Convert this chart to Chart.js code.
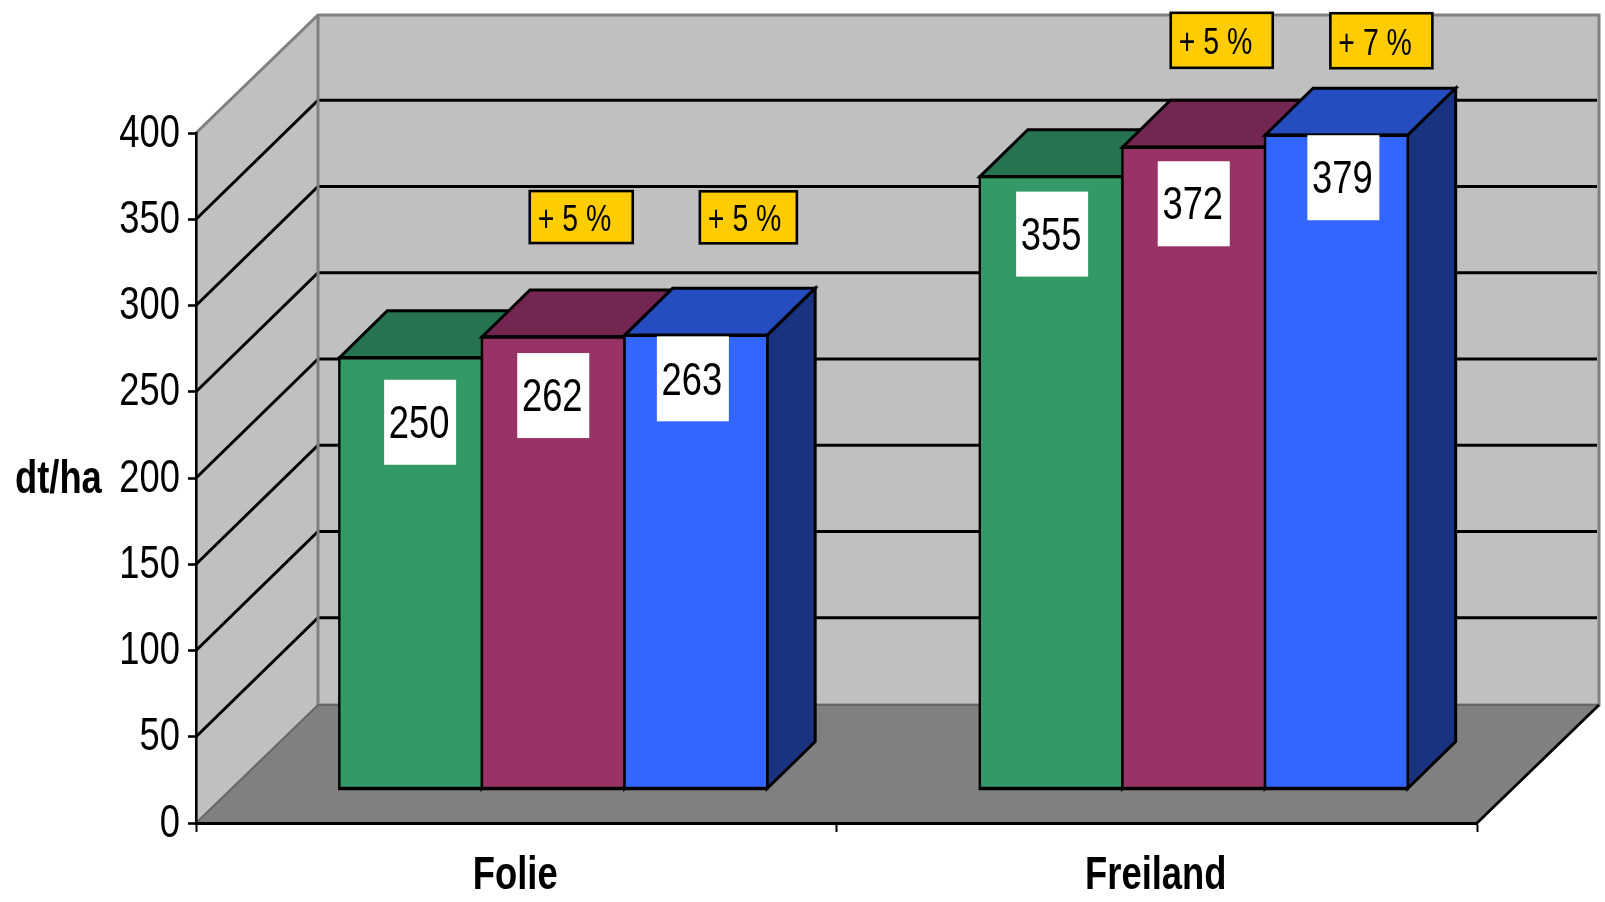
<!DOCTYPE html>
<html lang="de">
<head>
<meta charset="utf-8">
<title>Ertrag dt/ha</title>
<script src="https://cdn.jsdelivr.net/npm/chart.js@4"></script>
<style>
  html, body { margin: 0; padding: 0; background: #fff; }
  #wrap { position: relative; width: 1605px; height: 902px; }
</style>
</head>
<body>
<div id="wrap"><canvas id="chart" width="1605" height="902"></canvas></div>
<script>
// Yield per variant in dt/ha
const categories = ['Folie', 'Freiland'];
const seriesGreen = [250, 355];
const seriesPurple = [262, 372];
const seriesBlue = [263, 379];
const yTicks = [0, 50, 100, 150, 200, 250, 300, 350, 400];
const gainPurple = ['+ 5 %', '+ 5 %'];
const gainBlue = ['+ 5 %', '+ 7 %'];
const axisUnit = 'dt/ha';

// Pseudo-3D look
const FONT = '"Liberation Sans", Arial, sans-serif';
const NARROW = 0.79;
const WALL = { dx: 122, dy: -118 };
const GRID_DY = -119;
const BAR_DEPTH = { dx: 48, dy: -47 };
const BAR_SHIFT = { dx: 37, dy: -34 };

// White value boxes relative to their bar: [dx of centre, dy of top edge]
const valueBoxGreen = [[9.5, 22], [1, 15]];
const valueBoxPurple = [[0, 16], [0, 14]];
const valueBoxBlue = [[-3, 1], [7, 0]];
// Yellow gain notes relative to their bar: [dx of centre, dy of centre, width, height]
const gainBoxPurple = [[28, -120, 103, 52], [28, -107, 102, 55]];
const gainBoxBlue = [[52.5, -118, 97, 52], [45, -94.5, 102, 55]];

const fills = [
  { front: '#339966', top: '#267350', side: '#1A4D33' },
  { front: '#993366', top: '#732650', side: '#4D1A33' },
  { front: '#3366FF', top: '#264DBF', side: '#1A3380' }
];

// Condensed text: the installed sans is squeezed horizontally
function squeezedText(ctx, text, x, y, font, align) {
  ctx.save();
  ctx.translate(x, y);
  ctx.scale(NARROW, 1);
  ctx.font = font;
  ctx.textAlign = align;
  ctx.textBaseline = 'middle';
  ctx.fillStyle = '#000';
  ctx.fillText(text, 0, 0);
  ctx.restore();
}

const sceneryPlugin = {
  id: 'scenery',
  beforeDraw(chart) {
    const { ctx, chartArea: a, scales } = chart;
    const y = scales.y;
    const y0 = y.getPixelForValue(0), yMax = y.getPixelForValue(400);
    const bx0 = a.left + WALL.dx, bx1 = a.right + WALL.dx;
    ctx.save();
    // side wall
    ctx.fillStyle = '#C0C0C0';
    ctx.beginPath();
    ctx.moveTo(a.left, y0); ctx.lineTo(a.left, yMax);
    ctx.lineTo(bx0, yMax + WALL.dy); ctx.lineTo(bx0, y0 + WALL.dy);
    ctx.closePath(); ctx.fill();
    // back wall
    ctx.fillRect(bx0, yMax + WALL.dy, bx1 - bx0, y0 - yMax);
    // floor
    ctx.fillStyle = '#808080';
    ctx.beginPath();
    ctx.moveTo(a.left, y0); ctx.lineTo(bx0, y0 + WALL.dy);
    ctx.lineTo(bx1, y0 + WALL.dy); ctx.lineTo(a.right, y0);
    ctx.closePath(); ctx.fill();

    // grid lines on both walls
    ctx.strokeStyle = '#000'; ctx.lineWidth = 3;
    yTicks.filter(v => v > 0 && v < 400).forEach(v => {
      const p = y.getPixelForValue(v);
      ctx.beginPath();
      ctx.moveTo(a.left, p); ctx.lineTo(bx0, p + GRID_DY); ctx.lineTo(bx1 - 2, p + GRID_DY);
      ctx.stroke();
    });

    // wall edges
    ctx.strokeStyle = '#808080'; ctx.lineWidth = 3;
    ctx.beginPath();
    ctx.moveTo(a.left, yMax); ctx.lineTo(bx0, yMax + WALL.dy); ctx.lineTo(bx1, yMax + WALL.dy);
    ctx.lineTo(bx1, y0 + WALL.dy); ctx.lineTo(bx0, y0 + WALL.dy); ctx.lineTo(bx0, yMax + WALL.dy);
    ctx.stroke();
    ctx.strokeStyle = '#666'; ctx.lineWidth = 2;
    ctx.beginPath();
    ctx.moveTo(a.left, y0); ctx.lineTo(bx0, y0 + WALL.dy); ctx.lineTo(bx1, y0 + WALL.dy);
    ctx.stroke();
    ctx.strokeStyle = '#000'; ctx.lineWidth = 2.8;
    ctx.beginPath();
    ctx.moveTo(a.right, y0); ctx.lineTo(bx1, y0 + WALL.dy);
    ctx.stroke();
    ctx.restore();
  },
  // The regular right-to-left pass is skipped: the boxes must overlap left to right.
  beforeDatasetDraw() { return false; },
  afterDatasetsDraw(chart) {
    const { ctx } = chart;
    const d = BAR_DEPTH;
    ctx.save();
    ctx.translate(BAR_SHIFT.dx, BAR_SHIFT.dy);
    fills.forEach((colours, i) => {
      chart.getDatasetMeta(i).data.forEach(el => {
        const { x, y, base, width } = el.getProps(['x', 'y', 'base', 'width'], true);
        const l = x - width / 2, r = x + width / 2;
        ctx.lineJoin = 'miter';
        ctx.strokeStyle = '#000'; ctx.lineWidth = 3;
        // top face
        ctx.fillStyle = colours.top;
        ctx.beginPath();
        ctx.moveTo(l, y); ctx.lineTo(l + d.dx, y + d.dy); ctx.lineTo(r + d.dx, y + d.dy); ctx.lineTo(r, y);
        ctx.closePath(); ctx.fill(); ctx.stroke();
        // side face
        ctx.fillStyle = colours.side;
        ctx.beginPath();
        ctx.moveTo(r, y); ctx.lineTo(r + d.dx, y + d.dy); ctx.lineTo(r + d.dx, base + d.dy); ctx.lineTo(r, base);
        ctx.closePath(); ctx.fill(); ctx.stroke();
        // front face, with heavier horizontal edges
        el.draw(ctx);
        ctx.lineWidth = 2.4;
        ctx.strokeRect(l, y, width, base - y);
        ctx.lineWidth = 3.4;
        ctx.beginPath();
        ctx.moveTo(l - 1, y); ctx.lineTo(r + 1, y);
        ctx.moveTo(l - 1, base); ctx.lineTo(r + 1, base);
        ctx.stroke();
      });
    });
    ctx.restore();
  },
  afterDraw(chart) {
    const { ctx, scales } = chart;
    ctx.save();
    const font = '46px ' + FONT;
    const boldFont = 'bold 46px ' + FONT;

    // axis labels at the positions the scales give
    scales.y.ticks.forEach((t, i) => {
      squeezedText(ctx, String(t.value), 180, scales.y.getPixelForTick(i) + 1, font, 'right');
    });
    scales.x.ticks.forEach((t, i) => {
      squeezedText(ctx, categories[t.value], scales.x.getPixelForTick(i) - 1, 876, boldFont, 'center');
    });
    squeezedText(ctx, axisUnit, 15, scales.y.getPixelForValue(200) + 2, boldFont, 'left');

    // value boxes
    const metas = [0, 1, 2].map(i => chart.getDatasetMeta(i));
    const boxes = [valueBoxGreen, valueBoxPurple, valueBoxBlue];
    metas.forEach((meta, i) => {
      meta.data.forEach((el, j) => {
        const cx = el.x + BAR_SHIFT.dx + boxes[i][j][0];
        const top = el.y + BAR_SHIFT.dy + boxes[i][j][1];
        ctx.fillStyle = '#fff';
        ctx.fillRect(cx - 36, top, 72, 85);
        squeezedText(ctx, String(chart.data.datasets[i].data[j]), cx - 1, top + 45.5, font, 'center');
      });
    });

    // gain notes
    const notes = [[gainPurple, gainBoxPurple, metas[1]], [gainBlue, gainBoxBlue, metas[2]]];
    notes.forEach(([texts, boxSpec, meta]) => {
      texts.forEach((t, j) => {
        const el = meta.data[j];
        const [ox, oy, w, h] = boxSpec[j];
        const cx = el.x + BAR_SHIFT.dx + ox;
        const cy = el.y + BAR_SHIFT.dy + oy;
        ctx.fillStyle = '#FFCC00';
        ctx.strokeStyle = '#000'; ctx.lineWidth = 2.6;
        ctx.fillRect(cx - w / 2, cy - h / 2, w, h);
        ctx.strokeRect(cx - w / 2, cy - h / 2, w, h);
        squeezedText(ctx, t, cx - w / 2 + 8, cy + 4, '36px ' + FONT, 'left');
      });
    });
    ctx.restore();
  }
};

new Chart(document.getElementById('chart'), {
  type: 'bar',
  data: {
    labels: categories,
    datasets: [
      { label: 'A', data: seriesGreen, backgroundColor: fills[0].front },
      { label: 'B', data: seriesPurple, backgroundColor: fills[1].front },
      { label: 'C', data: seriesBlue, backgroundColor: fills[2].front }
    ]
  },
  options: {
    responsive: false,
    animation: false,
    layout: { padding: { top: 133, right: 128, left: 0, bottom: 0 } },
    plugins: { legend: { display: false }, tooltip: { enabled: false } },
    datasets: { bar: { barPercentage: 1, categoryPercentage: 0.668, borderWidth: 0 } },
    scales: {
      x: {
        afterFit: s => { s.height = 79; },
        border: { color: '#000', width: 3 },
        grid: { offset: true, drawOnChartArea: false, tickLength: 9, tickWidth: 2, tickColor: '#000' },
        ticks: { display: false }
      },
      y: {
        min: 0, max: 400,
        afterFit: s => { s.width = 196; },
        afterBuildTicks: s => { s.ticks = yTicks.map(value => ({ value })); },
        border: { color: '#000', width: 2.6 },
        grid: { drawOnChartArea: false, tickLength: 8, tickWidth: 2.6, tickColor: '#000' },
        ticks: { display: false }
      }
    }
  },
  plugins: [sceneryPlugin]
});
</script>
</body>
</html>
